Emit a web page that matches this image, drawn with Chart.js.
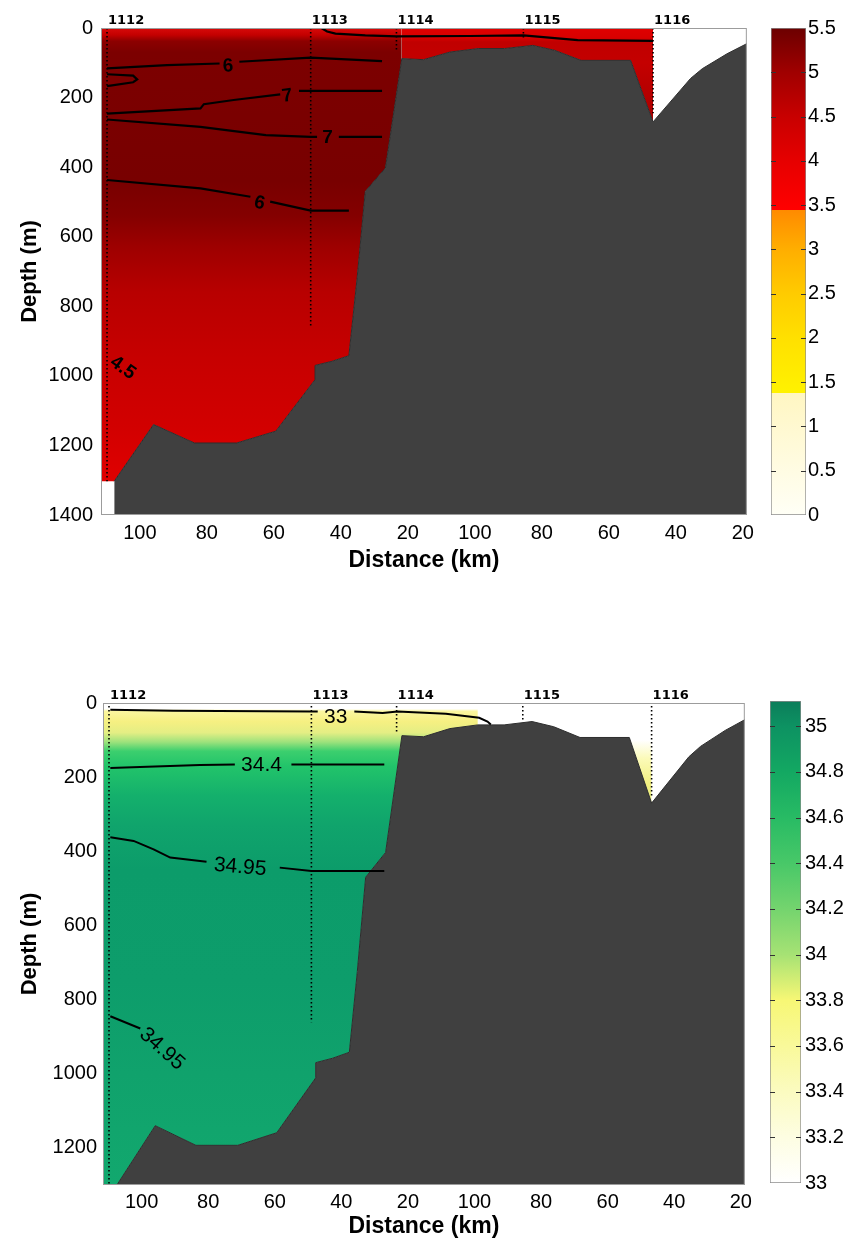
<!DOCTYPE html>
<html>
<head>
<meta charset="utf-8">
<script src="https://cdn.jsdelivr.net/npm/chart.js@4.4.1/dist/chart.umd.min.js"></script>
<style>
  html, body { margin: 0; padding: 0; background: #fff; }
  body { width: 848px; height: 1248px; position: relative; overflow: hidden; }
  .box { position: absolute; }
</style>
</head>
<body>
<div class="box" style="left:0;top:0;width:760px;height:600px"><canvas id="tempChart"></canvas></div>
<div class="box" style="left:760px;top:0;width:88px;height:600px"><canvas id="tempBar"></canvas></div>
<div class="box" style="left:0;top:650px;width:757px;height:598px"><canvas id="salChart"></canvas></div>
<div class="box" style="left:757px;top:650px;width:91px;height:598px"><canvas id="salBar"></canvas></div>

<script>
// distance along the section, km from the left edge of the plot
const xMax = 192.8;
const xTickPos = [11.6, 31.6, 51.6, 71.6, 91.6, 111.6, 131.6, 151.6, 171.6, 191.6];
const xTickLabels = ['100', '80', '60', '40', '20', '100', '80', '60', '40', '20'];

const depthTicksTemp = [0, 200, 400, 600, 800, 1000, 1200, 1400];
const depthTicksSal = [0, 200, 400, 600, 800, 1000, 1200];

// stations (CTD casts)
const stationNames = ['1112', '1113', '1114', '1115', '1116'];
const stationU = [1.8, 62.6, 88.2, 126.1, 164.8];
const stationDepthTemp = [1303, 862, 64, 30, 245];
const stationDepthSal = [1300, 861, 80, 50, 251];

// bottom topography
const bathyU = [3.95, 15.7, 27.9, 40.5, 52.2, 63.9, 63.9, 69.0, 74.0, 76.4, 78.9, 84.9, 89.8, 96.3, 104.2, 112.6, 120.5, 128.9, 135.4, 143.3, 158.1, 164.8, 176.0, 179.5, 186.9, 192.8];
const bathyD = [1303, 1140, 1193, 1193, 1159, 1011, 970, 958, 942, 724, 470, 403, 88, 91, 69, 59, 59, 50, 64, 93, 93, 270, 145, 117, 74, 45];
// deepest sample of the first cast
const castBottomU = [0];
const castBottomD = [1303];

// temperature contours (null = gap for the label)
const t6aU = [1.8, 19.7, 35.4, null, 41.3, 62.6, 83.9];
const t6aD = [116, 107, 102, null, 97, 85, 95];
const t7loopU = [1.8, 9.6, 10.8, 9.6, 1.8];
const t7loopD = [133, 137, 148, 156, 167];
const t7aU = [1.8, 29.7, 30.7, 39.6, 53.5, null, 59.1, 83.9];
const t7aD = [246, 231, 219, 207, 191, null, 181, 181];
const t7bU = [1.8, 29.7, 49.2, 62.6, 64.5, null, 71.0, 83.9];
const t7bD = [263, 284, 308, 313, 313, null, 313, 313];
const t6bU = [1.8, 29.7, 44.6, null, 50.5, 62.6, 74.0];
const t6bD = [437, 461, 485, null, 499, 525, 525];
const tSurfU = [65.8, 67.5, 70.0, 78.9, 88.2, 110.0, 126.1, 142.3, 164.8];
const tSurfD = [0, 10, 16, 21, 24, 23, 21, 35, 37];
const tLabelText = ['6', '7', '7', '6', '4.5'];
const tLabelU = [37.9, 55.6, 67.6, 47.3, 6.5];
const tLabelD = [110, 196, 315, 504, 977];
const tLabelRot = [-3, -8, 0, 12, 35];

// salinity contours
const s33U = [2.2, 21.1, 62.6, 64.5, null, 75.5, 84.0, 88.5, 103.0, 113.0, 115.5, 116.5];
const s33D = [18, 21, 23, 23, null, 23, 27, 23, 29, 40, 50, 58];
const s344U = [2.2, 29.1, 39.6, null, 56.6, 84.5];
const s344D = [175, 167, 166, null, 166, 166];
const s3495aU = [2.2, 9.2, 15.2, 20.2, 31.1, null, 53.1, 62.6, 84.5];
const s3495aD = [362, 372, 395, 417, 428, null, 444, 453, 453];
const s3495bU = [2.2, 11.2];
const s3495bD = [845, 878];
const sLabelText = ['33', '34.4', '34.95', '34.95'];
const sLabelU = [69.9, 47.6, 41.2, 17.7];
const sLabelD = [38, 169, 443, 933];
const sLabelRot = [0, 0, 5, 42];

// colour bars
const tempBarTicks = [0, 0.5, 1, 1.5, 2, 2.5, 3, 3.5, 4, 4.5, 5, 5.5];
const tempBarLabels = ['0', '0.5', '1', '1.5', '2', '2.5', '3', '3.5', '4', '4.5', '5', '5.5'];
const salBarTicks = [33, 33.2, 33.4, 33.6, 33.8, 34, 34.2, 34.4, 34.6, 34.8, 35];
const salBarLabels = ['33', '33.2', '33.4', '33.6', '33.8', '34', '34.2', '34.4', '34.6', '34.8', '35'];

// ---- styles ----
const FONT = '"Liberation Sans", Arial, sans-serif';
const LAND = '#404040';

const tempBarStops = [[0, '#fffff6'], [1.38, '#fff6c2'], [1.38, '#fff200'], [2, '#ffe000'], [2.5, '#ffcb00'],
  [3, '#ffae00'], [3.45, '#ff8a00'], [3.45, '#ff0000'], [4, '#e60000'], [4.5, '#c80000'], [5, '#a00000'], [5.5, '#6c0000']];
const salBarStops = [[33, '#ffffff'], [33.2, '#fdfde2'], [33.4, '#fbfbc0'], [33.6, '#f9f99a'], [33.8, '#f7f775'],
  [34, '#a6e274'], [34.2, '#74d46e'], [34.4, '#48c868'], [34.6, '#28bb64'], [34.8, '#13a862'], [35, '#0d9262'], [35.11, '#0b7d5a']];

const tempWestStops = [[0, '#d80a0a'], [20, '#c40000'], [38, '#8c0000'], [70, '#7c0000'], [440, '#780000'],
  [540, '#840000'], [630, '#9e0000'], [760, '#b80000'], [950, '#c70000'], [1150, '#d20000'], [1303, '#e00000']];
const tempEastStops = [[0, '#e00000'], [28, '#d80000'], [40, '#c00000'], [100, '#c40000'], [270, '#a80000']];
const salWestStops = [[0, '#ffffff'], [16, '#ffffff'], [22, '#fbf6a0'], [50, '#f6f082'], [80, '#e4ee84'],
  [105, '#9ee27c'], [130, '#3ccf6e'], [170, '#22c46a'], [250, '#14b06c'], [330, '#10a46c'], [450, '#0c9c6a'],
  [750, '#0d9d6b'], [1000, '#10a26c'], [1303, '#12a86e']];
const salEastStops = [[0, '#ffffff'], [100, '#ffffff'], [150, '#fbfab8'], [220, '#f2f080'], [270, '#e6ee80']];

function vGradient(chart, stops) {
  const { ctx, chartArea, scales } = chart;
  if (!chartArea) return null;
  const y = scales.y;
  const p0 = y.getPixelForValue(stops[0][0]);
  const p1 = y.getPixelForValue(stops[stops.length - 1][0]);
  const g = ctx.createLinearGradient(0, p0, 0, p1);
  stops.forEach(([v, c]) => g.addColorStop(Math.min(1, Math.max(0, (y.getPixelForValue(v) - p0) / (p1 - p0))), c));
  return g;
}

function toPoints(us, ds) {
  return us.map((u, i) => ({ x: u, y: ds[i] }));
}

function segments(us, ds) {
  const out = [[]];
  us.forEach((u, i) => {
    if (u === null) out.push([]);
    else out[out.length - 1].push({ x: u, y: ds[i] });
  });
  return out;
}

function sectionText(cfg) {
  return {
    id: 'sectionText',
    afterDatasetsDraw(chart) {
      const { ctx, chartArea, scales: { x, y } } = chart;
      ctx.save();
      ctx.strokeStyle = '#9c9c9c';
      ctx.lineWidth = 1;
      ctx.strokeRect(chartArea.left + 0.5, chartArea.top + 0.5, chartArea.width - 1, chartArea.height - 1);

      ctx.fillStyle = '#000';
      ctx.font = 'bold 13px "DejaVu Sans"';
      ctx.textAlign = 'left';
      ctx.textBaseline = 'alphabetic';
      stationNames.forEach((s, i) => {
        ctx.fillText(s, x.getPixelForValue(stationU[i]) + 1, chartArea.top - cfg.stationGap);
      });

      ctx.font = cfg.labelFont;
      ctx.textAlign = 'center';
      ctx.textBaseline = 'middle';
      cfg.labelText.forEach((t, i) => {
        ctx.save();
        ctx.translate(x.getPixelForValue(cfg.labelU[i]), y.getPixelForValue(cfg.labelD[i]));
        ctx.rotate(cfg.labelRot[i] * Math.PI / 180);
        ctx.fillText(t, 0, 0);
        ctx.restore();
      });
      ctx.restore();
    }
  };
}

function sectionChart(id, cfg) {
  const west = toPoints(castBottomU, castBottomD)
    .concat(toPoints(bathyU, bathyD).filter(p => p.x <= cfg.split));
  const east = toPoints(bathyU, bathyD).filter(p => p.x >= cfg.split && p.x <= stationU[4]);

  const datasets = [
    { data: west, fill: { value: 0 }, borderColor: 'rgba(0,0,0,0)', borderWidth: 0, order: 10,
      backgroundColor: c => vGradient(c.chart, cfg.westStops) },
    { data: east, fill: { value: 0 }, borderColor: 'rgba(0,0,0,0)', borderWidth: 0, order: 10,
      backgroundColor: c => vGradient(c.chart, cfg.eastStops) },
    { data: toPoints(bathyU, bathyD), fill: { value: cfg.yMax }, backgroundColor: LAND,
      borderColor: '#2e2e2e', borderWidth: 1, order: 9 }
  ];
  stationU.forEach((u, i) => {
    datasets.push({ data: [{ x: u, y: cfg.stationTop }, { x: u, y: cfg.stationDepth[i] }],
      borderColor: '#000', borderWidth: 1.6, borderDash: [1.6, 2.4], fill: false, order: 8 });
  });
  cfg.contours.forEach(([us, ds]) => {
    segments(us, ds).forEach(seg => {
      datasets.push({ data: seg, borderColor: '#000', borderWidth: cfg.contourWidth, fill: false, order: 7 });
    });
  });

  new Chart(document.getElementById(id), {
    type: 'line',
    data: { datasets },
    options: {
      responsive: true,
      maintainAspectRatio: false,
      animation: false,
      events: [],
      layout: { padding: cfg.padding },
      elements: { point: { radius: 0 }, line: { tension: 0 } },
      plugins: { legend: { display: false }, tooltip: { enabled: false } },
      scales: {
        x: {
          type: 'linear', min: 0, max: xMax,
          grid: { display: false, drawTicks: false },
          border: { display: false },
          afterBuildTicks: a => { a.ticks = xTickPos.map(v => ({ value: v })); },
          afterFit: a => { a.height = cfg.xAxisH; },
          ticks: { autoSkip: false, maxRotation: 0, padding: cfg.xTickPad, color: '#000',
            font: { size: 20, family: FONT }, callback: (v, i) => xTickLabels[i] },
          title: { display: true, text: 'Distance (km)', color: '#000',
            font: { size: 23, weight: 'bold', family: FONT }, padding: { top: 0, bottom: cfg.xTitlePad } }
        },
        y: {
          type: 'linear', reverse: true, min: 0, max: cfg.yMax,
          grid: { display: false, drawTicks: false },
          border: { display: false },
          afterBuildTicks: a => { a.ticks = cfg.yTicks.map(v => ({ value: v })); },
          afterFit: a => { a.width = cfg.yAxisW; },
          ticks: { padding: cfg.yTickPad, color: '#000', font: { size: 20, family: FONT }, callback: v => String(v) },
          title: { display: true, text: 'Depth (m)', color: '#000',
            font: { size: 22, weight: 'bold', family: FONT }, padding: { top: 17, bottom: 0 } }
        }
      }
    },
    plugins: [sectionText(cfg)]
  });
}

function barTicks(min, max) {
  return {
    id: 'barTicks',
    afterDatasetsDraw(chart) {
      const { ctx, chartArea, scales: { y } } = chart;
      ctx.save();
      ctx.strokeStyle = '#333';
      ctx.lineWidth = 1;
      y.ticks.forEach(t => {
        if (t.value <= min || t.value >= max) return;
        const py = Math.round(y.getPixelForValue(t.value)) + 0.5;
        ctx.beginPath();
        ctx.moveTo(chartArea.left, py); ctx.lineTo(chartArea.left + 5, py);
        ctx.moveTo(chartArea.right - 5, py); ctx.lineTo(chartArea.right, py);
        ctx.stroke();
      });
      ctx.restore();
    }
  };
}

function colorBar(id, cfg) {
  new Chart(document.getElementById(id), {
    type: 'bar',
    data: {
      labels: [''],
      datasets: [{
        data: [[cfg.min, cfg.max]],
        backgroundColor: c => vGradient(c.chart, cfg.stops),
        borderColor: '#8c8c8c', borderWidth: 1, borderSkipped: false,
        barPercentage: 1, categoryPercentage: 1
      }]
    },
    options: {
      responsive: true,
      maintainAspectRatio: false,
      animation: false,
      events: [],
      layout: { padding: cfg.padding },
      plugins: { legend: { display: false }, tooltip: { enabled: false } },
      scales: {
        x: { display: false },
        y: {
          position: 'right', min: cfg.min, max: cfg.max,
          grid: { display: false, drawTicks: false },
          border: { display: false },
          afterBuildTicks: a => { a.ticks = cfg.ticks.map(v => ({ value: v })); },
          afterFit: a => { a.width = cfg.axisW; },
          ticks: { padding: cfg.tickPad, color: '#000', font: { size: 20, family: FONT },
            callback: (v, i) => cfg.labels[i] }
        }
      }
    },
    plugins: [barTicks(cfg.min, cfg.max)]
  });
}

sectionChart('tempChart', {
  yMax: 1400, yTicks: depthTicksTemp, split: 89.8,
  westStops: tempWestStops, eastStops: tempEastStops,
  stationTop: 0, stationDepth: stationDepthTemp, stationGap: 4,
  contours: [[t6aU, t6aD], [t7loopU, t7loopD], [t7aU, t7aD], [t7bU, t7bD], [t6bU, t6bD], [tSurfU, tSurfD]],
  contourWidth: 2.2,
  labelText: tLabelText, labelU: tLabelU, labelD: tLabelD, labelRot: tLabelRot,
  labelFont: 'bold 19px ' + FONT,
  padding: { left: 0, top: 28, right: 10, bottom: 0 },
  xAxisH: 85, xTickPad: 6, xTitlePad: 26, yAxisW: 101, yTickPad: 8
});

sectionChart('salChart', {
  yMax: 1300, yTicks: depthTicksSal, split: 112.6,
  westStops: salWestStops, eastStops: salEastStops,
  stationTop: 8, stationDepth: stationDepthSal, stationGap: 4,
  contours: [[s33U, s33D], [s344U, s344D], [s3495aU, s3495aD], [s3495bU, s3495bD]],
  contourWidth: 2,
  labelText: sLabelText, labelU: sLabelU, labelD: sLabelD, labelRot: sLabelRot,
  labelFont: '21px ' + FONT,
  padding: { left: 0, top: 53, right: 10, bottom: 0 },
  xAxisH: 63, xTickPad: 5, xTitlePad: 7.5, yAxisW: 103, yTickPad: 6
});

colorBar('tempBar', {
  min: 0, max: 5.5, ticks: tempBarTicks, labels: tempBarLabels, stops: tempBarStops,
  padding: { left: 11, top: 28, right: 0, bottom: 85 }, axisW: 42, tickPad: 2
});

colorBar('salBar', {
  min: 33, max: 35.11, ticks: salBarTicks, labels: salBarLabels, stops: salBarStops,
  padding: { left: 13, top: 51, right: 0, bottom: 65 }, axisW: 47, tickPad: 4
});
</script>
</body>
</html>
